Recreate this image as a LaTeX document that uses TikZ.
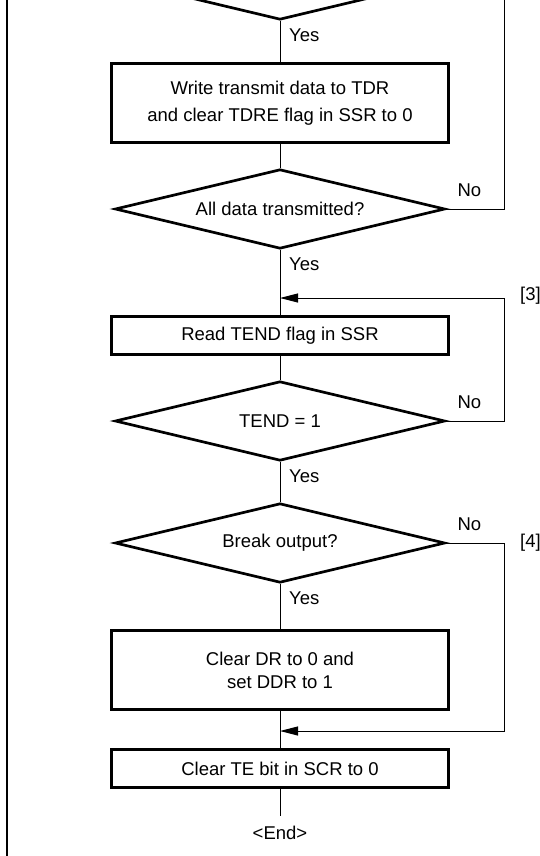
\documentclass[tikz,border=0pt]{standalone}
\usepackage{fontspec}
\setmainfont{Liberation Sans}
\usetikzlibrary{shapes.geometric,arrows.meta,positioning}

\begin{document}
\begin{tikzpicture}[x=1pt, y=-1pt,
    font=\fontsize{18.5}{23}\selectfont,
    procbox/.style={rectangle, draw, line width=2.7pt, minimum width=337pt, inner sep=0pt, align=center},
    decision/.style={diamond, draw, line width=2.7pt, aspect=4, minimum width=330pt, minimum height=79.5pt, inner sep=0pt},
    flowline/.style={line width=1pt},
    loopline/.style={line width=1pt, -{Triangle[length=18pt, width=9pt]}},
    lbl/.style={inner sep=0pt}]
    \useasboundingbox (0,0) rectangle (540,856);
    \clip (0,0) rectangle (540,856);

    % Left margin rule
    \draw[line width=2pt] (6.5,0) -- (6.5,856);

    % Decisions and process boxes
    \node[decision] (tdre) at (280,-20) {};
    \node[procbox, minimum height=79.3pt] (wrtdr) at (280,103) {Write transmit data to TDR\\[4pt]and clear TDRE flag in SSR to 0};
    \node[decision] (alldone) at (280,209) {All data transmitted?};
    \node[procbox, minimum height=38.3pt] (rdtend) at (280,335.5) {Read TEND flag in SSR};
    \node[decision] (tend) at (280,421) {TEND = 1};
    \node[decision] (brk) at (280,543) {Break output?};
    \node[procbox, minimum height=79.3pt] (clrdr) at (280,670) {Clear DR to 0 and\\set DDR to 1};
    \node[procbox, minimum height=38.3pt] (clrte) at (280,768.5) {Clear TE bit in SCR to 0};
    \node[inner sep=10pt] (end) at (280,833) {<End>};

    % Rail on the right and the points where the loops come back
    \coordinate (rail) at (504,-10);
    \coordinate (join3) at (280,298);
    \coordinate (join4) at (280,731);

    % Main flow
    \draw[flowline] (tdre.south) -- (wrtdr.north);
    \draw[flowline] (wrtdr.south) -- (alldone.north);
    \draw[flowline] (alldone.south) -- (rdtend.north);
    \draw[flowline] (rdtend.south) -- (tend.north);
    \draw[flowline] (tend.south) -- (brk.north);
    \draw[flowline] (brk.south) -- (clrdr.north);
    \draw[flowline] (clrdr.south) -- (clrte.north);
    \draw[flowline] (clrte.south) -- (end.north);

    % Loops back
    \draw[flowline] (alldone.east) -| (rail);
    \draw[loopline] (tend.east) -| (rail |- join3) -- (join3);
    \draw[loopline] (brk.east) -| (rail |- join4) -- (join4);

    % Labels
    \foreach \d in {tdre, alldone, tend, brk}
        \node[lbl, anchor=north west] at ([xshift=9pt, yshift=-7pt]\d.south) {Yes};
    \foreach \d in {alldone, tend, brk}
        \node[lbl, anchor=south west] at ([xshift=11pt, yshift=12pt]\d.east) {No};
    \node[lbl, anchor=west] at ([xshift=16pt, yshift=2pt]rail |- join3) {[3]};
    \node[lbl, anchor=west] at ([xshift=16pt]rail |- brk.east) {[4]};
\end{tikzpicture}
\end{document}
